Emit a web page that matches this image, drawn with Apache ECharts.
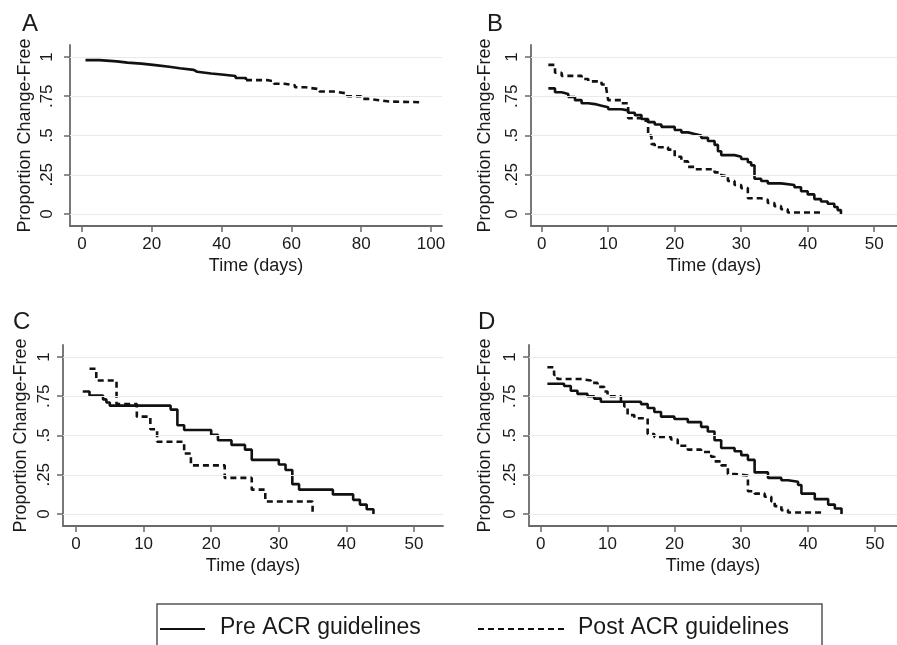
<!DOCTYPE html>
<html>
<head>
<meta charset="utf-8">
<script src="https://cdn.jsdelivr.net/npm/echarts@6.0.0/dist/echarts.min.js"></script>
<style>
html,body{margin:0;padding:0;background:#fff;}
#chart{width:897px;height:645px;}
</style>
</head>
<body>
<div id="chart"></div>
<script>
// ---- Data ----
const panelLabels = ['A', 'B', 'C', 'D'];
const seriesNames = ['Pre ACR guidelines', 'Post ACR guidelines'];
const yTickValues = [0, 0.25, 0.5, 0.75, 1];
const yTickLabels = ['0', '.25', '.5', '.75', '1'];
const xTicksA = [0, 20, 40, 60, 80, 100];
const xTicksBCD = [0, 10, 20, 30, 40, 50];
const yTitle = 'Proportion Change-Free';
const xTitle = 'Time (days)';

const panelAPre = [[1,0.98],[5,0.972],[10,0.964],[13,0.958],[17,0.948],[21,0.938],[25,0.928],[28,0.918],[32,0.906],[33,0.895],[37,0.889],[40,0.879],[44,0.866],[47,0.853]];
const panelAPost = [[47,0.853],[53,0.845],[55,0.83],[58,0.82],[61,0.807],[64,0.795],[68,0.78],[72,0.768],[76,0.75],[80,0.733],[82,0.722],[86,0.716],[88,0.712],[97,0.711]];

const panelBPre = [[1,0.80],[2,0.775],[3,0.765],[4,0.745],[5,0.725],[6,0.705],[7,0.70],[8,0.69],[9,0.68],[10,0.667],[12,0.66],[13,0.645],[14,0.63],[15,0.605],[16,0.585],[17,0.57],[18,0.555],[20,0.535],[21,0.52],[22,0.51],[23,0.50],[24,0.485],[25,0.465],[26,0.44],[26.5,0.40],[27,0.375],[29,0.365],[30,0.35],[31,0.33],[31.5,0.31],[32,0.225],[33,0.21],[34,0.195],[36,0.185],[38,0.17],[39,0.145],[40,0.125],[41,0.095],[42,0.08],[43,0.065],[44,0.045],[44.5,0.025],[45,0.0]];
const panelBPost = [[1,0.95],[2,0.90],[3,0.88],[6,0.86],[7,0.845],[9,0.825],[9.7,0.80],[10,0.725],[12,0.705],[13,0.61],[15,0.595],[16,0.50],[16.5,0.445],[17,0.425],[19,0.41],[20,0.365],[21,0.335],[22,0.30],[23,0.285],[26,0.265],[27,0.245],[28,0.21],[29,0.185],[30,0.165],[31,0.10],[33,0.09],[34,0.07],[35,0.05],[36,0.03],[37,0.01],[42.3,0.01]];

const panelCPre = [[1,0.78],[2,0.755],[4,0.73],[4.5,0.71],[5,0.69],[14,0.665],[15,0.565],[16,0.535],[20,0.505],[21,0.47],[23,0.44],[25,0.41],[26,0.345],[30,0.315],[31,0.28],[32,0.19],[33,0.155],[38,0.125],[41,0.09],[42,0.06],[43,0.03],[44,0.0]];
const panelCPost = [[2,0.925],[3,0.85],[6,0.70],[9,0.62],[11,0.54],[12,0.46],[16,0.385],[17,0.31],[22,0.23],[26,0.155],[28,0.08],[35,0.08],[35,0.0]];

const panelDPre = [[1,0.83],[3.5,0.815],[4.5,0.785],[5.5,0.765],[7,0.75],[8,0.735],[9,0.715],[15,0.70],[16,0.675],[17,0.65],[18,0.62],[20,0.605],[22,0.585],[24,0.555],[25,0.525],[26,0.47],[27,0.42],[29,0.40],[30,0.375],[31,0.345],[32,0.265],[34,0.23],[36,0.215],[37,0.205],[38.5,0.185],[39,0.13],[41,0.095],[43,0.06],[44,0.035],[45,0.0]];
const panelDPost = [[1,0.935],[2,0.885],[2.5,0.86],[6,0.85],[7.5,0.835],[8.5,0.81],[9.5,0.78],[10,0.75],[12,0.72],[12.5,0.685],[13,0.63],[14,0.61],[16,0.51],[17,0.49],[19.5,0.475],[20.5,0.435],[22,0.41],[24,0.395],[25.5,0.365],[26,0.335],[27,0.31],[28,0.255],[29,0.245],[31,0.145],[32,0.13],[33.5,0.11],[34.5,0.08],[35,0.05],[36,0.025],[37,0.01],[42,0.01]];

// ---- Layout ----
const FONT = '"Liberation Sans", Arial, Helvetica, sans-serif';
const TXT = '#1a1a1a';
const AXC = '#6a6a6a';
const panels = [
  {pre: panelAPre, post: panelAPost, ticks: xTicksA, grid:{left:70, top:45, width:372, height:181}, xmin:-3.44, xmax:103.15, ylm:14, ng:36, lbl:{x:22,y:12}},
  {pre: panelBPre, post: panelBPost, ticks: xTicksBCD, grid:{left:531, top:45, width:366, height:181}, xmin:-1.61, xmax:53.43, ylm:10, ng:37, lbl:{x:487,y:12}},
  {pre: panelCPre, post: panelCPost, ticks: xTicksBCD, grid:{left:63, top:345, width:380, height:181}, xmin:-1.92, xmax:54.29, ylm:10, ng:33, lbl:{x:13,y:310}},
  {pre: panelDPre, post: panelDPost, ticks: xTicksBCD, grid:{left:529, top:345, width:368, height:181}, xmin:-1.75, xmax:53.3, ylm:10, ng:35, lbl:{x:478,y:310}}
];

const grids = [], xAxes = [], yAxes = [], series = [], titles = [];
panels.forEach((p, i) => {
  grids.push(Object.assign({containLabel:false}, p.grid));
  xAxes.push({
    type:'value', gridIndex:i, min:p.xmin, max:p.xmax,
    name:xTitle, nameLocation:'middle', nameGap:31,
    nameTextStyle:{fontSize:18, color:TXT, fontFamily:FONT},
    axisLine:{show:true, onZero:false, lineStyle:{color:AXC, width:1.8}},
    axisTick:{show:true, length:6, customValues:p.ticks, lineStyle:{color:AXC, width:1.5}},
    axisLabel:{customValues:p.ticks, margin:10, fontSize:17, color:TXT, fontFamily:FONT},
    splitLine:{show:false}
  });
  yAxes.push({
    type:'value', gridIndex:i, min:-0.0764, max:1.0764,
    name:yTitle, nameLocation:'middle', nameGap:p.ng,
    nameTextStyle:{fontSize:18, color:TXT, fontFamily:FONT},
    axisLine:{show:true, onZero:false, lineStyle:{color:AXC, width:1.8}},
    axisTick:{show:true, length:6, customValues:yTickValues, lineStyle:{color:AXC, width:1.5}},
    axisLabel:{customValues:yTickValues, rotate:90, margin:p.ylm, fontSize:17, color:TXT, fontFamily:FONT,
      formatter:(v)=>{ const k = yTickValues.findIndex(t=>Math.abs(t-v)<1e-6); return k>=0 ? yTickLabels[k] : ''; }},
    splitLine:{show:false}
  });
  series.push({
    name:seriesNames[0], type:'line', xAxisIndex:i, yAxisIndex:i, step:'end', symbol:'none',
    data:p.pre, z:3, silent:true,
    lineStyle:{color:'#111', width:2.6},
    markLine:{silent:true, symbol:'none', label:{show:false}, animation:false,
      lineStyle:{color:'#e3edef', width:1.2, type:'solid'},
      data: yTickValues.map(v=>({yAxis:v}))}
  });
  series.push({
    name:seriesNames[1], type:'line', xAxisIndex:i, yAxisIndex:i, step:'end', symbol:'none',
    data:p.post, z:3, silent:true,
    lineStyle:{color:'#111', width:2.6, type:[6,4]}
  });
  titles.push({text:panelLabels[i], left:p.lbl.x, top:p.lbl.y, padding:0,
    textStyle:{fontSize:24, fontWeight:'normal', color:TXT, fontFamily:FONT}});
});

const legendGraphic = [
  {type:'rect', shape:{x:157, y:604, width:665, height:60}, style:{fill:'none', stroke:'#555', lineWidth:1.5}},
  {type:'line', shape:{x1:160, y1:629, x2:205, y2:629}, style:{stroke:'#111', lineWidth:2.2}},
  {type:'text', left:220, top:616, style:{text:seriesNames[0], fontSize:23, fill:TXT, fontFamily:FONT}},
  {type:'line', shape:{x1:478, y1:629, x2:565, y2:629}, style:{stroke:'#111', lineWidth:2.2, lineDash:[6,4]}},
  {type:'text', left:578, top:616, style:{text:seriesNames[1], fontSize:23, fill:TXT, fontFamily:FONT}}
];

const chart = echarts.init(document.getElementById('chart'), null, {renderer:'canvas'});
chart.setOption({
  animation:false,
  backgroundColor:'#ffffff',
  title:titles,
  grid:grids,
  xAxis:xAxes,
  yAxis:yAxes,
  series:series,
  graphic:legendGraphic
});
</script>
</body>
</html>
